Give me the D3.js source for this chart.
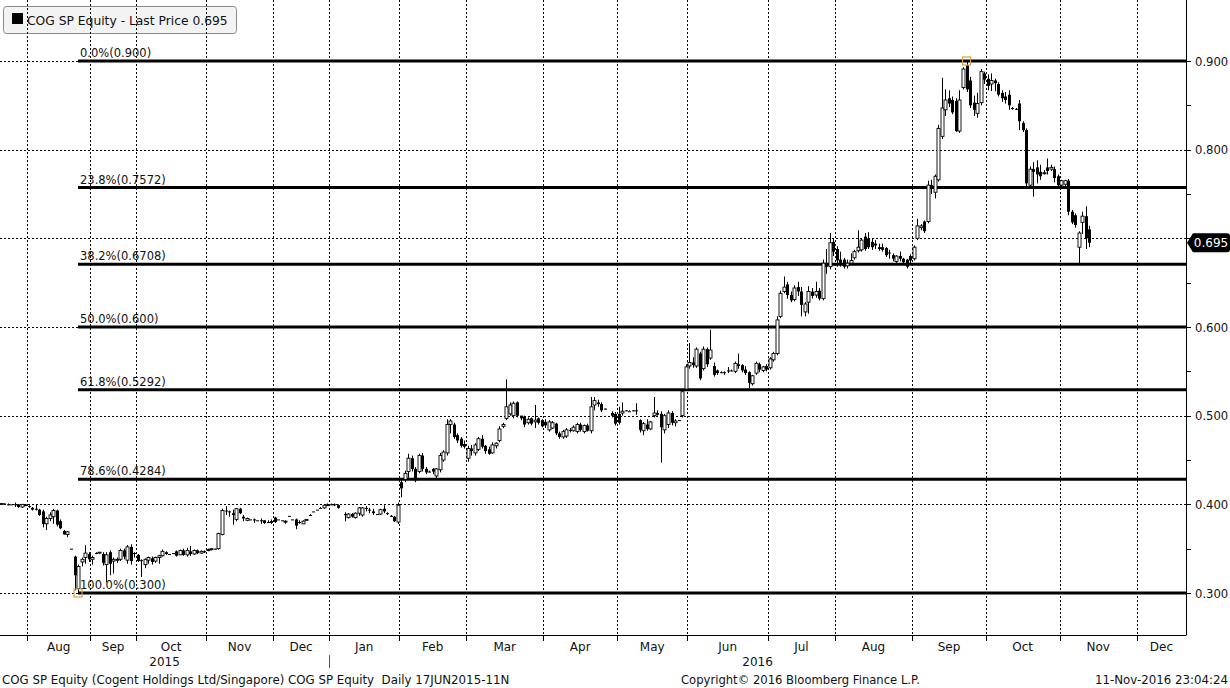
<!DOCTYPE html>
<html><head><meta charset="utf-8">
<script src="https://cdn.jsdelivr.net/npm/d3@7"></script>
<style>
html,body{margin:0;padding:0;background:#fff;}
svg{display:block;font-family:"DejaVu Sans",Verdana,sans-serif;}
</style></head>
<body><svg id="c" width="1230" height="688"></svg>
<script>
// ---------- DATA ----------
const ticker = "COG SP Equity";
const lastPrice = 0.695;
const monthLabels = ["Aug","Sep","Oct","Nov","Dec","Jan","Feb","Mar","Apr","May","Jun","Jul","Aug","Sep","Oct","Nov","Dec"];
const monthStarts = [8,26,39,59,78,94,114,133,155,176,196,219,238,260,281,302,324];
const totalSlots = 338;
const yearLabels = ["2015","2016"];
const yearStarts = [0,94];
const yTicks = [0.3,0.4,0.5,0.6,0.7,0.8,0.9];
const yMinorTicks = [0.35,0.45,0.55,0.65,0.75,0.85];
const fibLevels = [0.900,0.7572,0.6708,0.600,0.5292,0.4284,0.300];
const fibLabels = ["0.0%(0.900)","23.8%(0.7572)","38.2%(0.6708)","50.0%(0.600)","61.8%(0.5292)","78.6%(0.4284)","100.0%(0.300)"];
const lowIndex = 22, highIndex = 275;
// daily candles [open, high, low, close], one per slot (null = no trade)
const ohlc = [
[0.400,0.401,0.400,0.401],[0.401,0.401,0.400,0.400],[0.400,0.401,0.399,0.400],[0.400,0.400,0.400,0.400],
[0.400,0.402,0.397,0.400],[0.400,0.400,0.396,0.397],[0.397,0.400,0.396,0.400],[0.400,0.400,0.398,0.398],
[0.398,0.399,0.396,0.397],[0.396,0.397,0.393,0.394],[0.395,0.400,0.393,0.395],[0.394,0.395,0.387,0.388],
[0.392,0.394,0.374,0.378],[0.378,0.386,0.371,0.384],[0.384,0.391,0.381,0.388],[0.386,0.395,0.378,0.393],
[0.393,0.394,0.375,0.377],[0.381,0.383,0.372,0.373],[0.370,0.371,0.366,0.366],[0.366,0.370,0.363,0.369],
[0.350,0.350,0.350,0.350],[0.341,0.342,0.303,0.320],[0.305,0.332,0.300,0.330],[0.335,0.340,0.330,0.338],
[0.340,0.354,0.333,0.345],[0.344,0.346,0.335,0.338],[0.338,0.342,0.332,0.340],[0.345,0.346,0.344,0.345],
[0.345,0.346,0.345,0.346],[0.344,0.346,0.331,0.334],[0.332,0.346,0.312,0.343],[0.346,0.348,0.320,0.333],
[0.336,0.340,0.322,0.338],[0.337,0.340,0.334,0.338],[0.338,0.350,0.336,0.348],[0.348,0.350,0.338,0.341],
[0.337,0.354,0.333,0.352],[0.352,0.355,0.332,0.336],[0.345,0.346,0.340,0.344],[0.343,0.344,0.335,0.336],
[0.337,0.338,0.318,0.336],[0.332,0.339,0.328,0.338],[0.337,0.341,0.333,0.340],[0.339,0.341,0.332,0.335],
[0.336,0.341,0.334,0.340],[0.340,0.343,0.333,0.342],[0.342,0.349,0.341,0.347],[0.346,0.347,0.343,0.344],
[0.344,0.344,0.344,0.344],[0.345,0.345,0.344,0.345],[0.347,0.348,0.341,0.342],[0.343,0.349,0.343,0.348],
[0.348,0.350,0.342,0.343],[0.343,0.351,0.341,0.348],[0.347,0.353,0.342,0.344],[0.344,0.349,0.343,0.348],
[0.348,0.349,0.344,0.345],[0.345,0.348,0.344,0.347],[0.347,0.348,0.345,0.346],[0.348,0.350,0.347,0.349],
[0.349,0.350,0.348,0.350],[0.350,0.350,0.349,0.350],[0.350,0.368,0.349,0.367],[0.366,0.395,0.365,0.393],
[0.393,0.398,0.388,0.392],[0.392,0.393,0.386,0.391],[0.390,0.394,0.377,0.388],[0.383,0.396,0.381,0.395],
[0.395,0.396,0.389,0.390],[0.386,0.388,0.381,0.384],[0.382,0.385,0.381,0.384],[0.383,0.383,0.383,0.383],
[0.383,0.384,0.379,0.383],[0.382,0.382,0.382,0.382],[0.382,0.384,0.378,0.381],[0.382,0.382,0.378,0.379],
[0.380,0.382,0.379,0.380],[0.381,0.383,0.378,0.379],[0.385,0.386,0.379,0.380],[0.383,0.383,0.383,0.383],
[0.382,0.382,0.382,0.382],[0.380,0.382,0.378,0.381],[0.387,0.387,0.387,0.387],[0.383,0.383,0.383,0.383],
[0.383,0.384,0.372,0.376],[0.380,0.382,0.378,0.379],[0.378,0.382,0.378,0.381],[0.382,0.383,0.382,0.383],
[0.388,0.389,0.388,0.388],[0.392,0.392,0.392,0.392],[0.394,0.394,0.394,0.394],[0.396,0.397,0.396,0.396],
[0.396,0.400,0.395,0.399],[0.400,0.401,0.398,0.398],
// Jan 2016
[0.400,0.401,0.399,0.400],[0.400,0.401,0.398,0.399],[0.399,0.400,0.395,0.396],null,
[0.389,0.391,0.381,0.388],[0.385,0.390,0.384,0.389],[0.389,0.390,0.385,0.386],[0.385,0.391,0.384,0.390],
[0.390,0.397,0.387,0.396],[0.388,0.397,0.386,0.396],[0.396,0.398,0.392,0.395],[0.394,0.396,0.390,0.393],
[0.392,0.395,0.388,0.390],[0.389,0.389,0.388,0.389],[0.389,0.395,0.388,0.394],[0.395,0.399,0.390,0.392],
[0.390,0.391,0.388,0.389],[0.387,0.388,0.386,0.387],[0.386,0.387,0.380,0.381],[0.380,0.402,0.378,0.399],
// Feb
[0.425,0.428,0.408,0.418],[0.428,0.438,0.425,0.435],[0.437,0.457,0.430,0.452],[0.452,0.455,0.437,0.440],
[0.440,0.442,0.425,0.427],[0.437,0.457,0.435,0.455],[0.455,0.458,0.437,0.440],[0.440,0.442,0.434,0.436],
[0.437,0.438,0.436,0.437],[0.440,0.441,0.434,0.437],[0.432,0.441,0.429,0.440],[0.439,0.458,0.436,0.455],
[0.450,0.461,0.448,0.459],[0.458,0.496,0.455,0.490],[0.490,0.496,0.480,0.494],[0.490,0.492,0.474,0.476],
[0.478,0.480,0.469,0.472],[0.474,0.476,0.464,0.466],[0.468,0.472,0.463,0.465],
// Mar
[0.452,0.466,0.448,0.463],[0.463,0.467,0.455,0.460],[0.458,0.469,0.455,0.467],[0.462,0.476,0.460,0.474],
[0.474,0.478,0.463,0.465],[0.466,0.467,0.457,0.460],[0.462,0.465,0.456,0.457],[0.458,0.470,0.457,0.467],
[0.466,0.470,0.463,0.469],[0.472,0.488,0.470,0.485],[0.488,0.492,0.486,0.490],[0.497,0.541,0.495,0.510],
[0.502,0.515,0.500,0.512],[0.500,0.516,0.497,0.514],[0.515,0.516,0.498,0.500],[0.500,0.500,0.495,0.497],
[0.499,0.500,0.487,0.490],[0.492,0.498,0.490,0.496],[0.497,0.498,0.489,0.491],[0.493,0.512,0.486,0.495],
[0.497,0.498,0.490,0.492],[0.495,0.496,0.487,0.488],
// Apr
[0.493,0.496,0.486,0.489],[0.484,0.495,0.482,0.493],[0.486,0.494,0.485,0.492],[0.491,0.492,0.478,0.480],
[0.480,0.482,0.474,0.476],[0.476,0.484,0.474,0.482],[0.477,0.486,0.475,0.484],[0.484,0.486,0.481,0.483],
[0.483,0.489,0.482,0.487],[0.482,0.492,0.480,0.490],[0.490,0.492,0.482,0.484],[0.482,0.490,0.480,0.489],
[0.489,0.491,0.482,0.483],[0.483,0.521,0.480,0.510],[0.512,0.521,0.506,0.517],[0.515,0.518,0.510,0.513],
[0.513,0.515,0.504,0.506],[0.508,0.508,0.507,0.508],null,[0.503,0.505,0.498,0.500],[0.502,0.504,0.489,0.491],
// May
[0.502,0.510,0.490,0.492],[0.503,0.515,0.500,0.505],[0.506,0.506,0.505,0.506],[0.505,0.506,0.505,0.505],
[0.506,0.506,0.505,0.506],[0.506,0.514,0.501,0.505],[0.495,0.496,0.481,0.484],[0.483,0.493,0.478,0.491],
[0.490,0.496,0.483,0.485],[0.485,0.494,0.484,0.493],[0.500,0.521,0.498,0.503],[0.503,0.506,0.500,0.501],
[0.502,0.505,0.447,0.487],[0.484,0.502,0.480,0.500],[0.490,0.506,0.486,0.503],[0.503,0.505,0.489,0.492],
[0.492,0.496,0.488,0.494],[0.495,0.495,0.494,0.495],[0.500,0.530,0.498,0.527],[0.530,0.558,0.528,0.555],
// Jun
[0.556,0.582,0.553,0.560],[0.560,0.566,0.554,0.557],[0.556,0.577,0.554,0.575],[0.570,0.572,0.540,0.542],
[0.553,0.578,0.551,0.575],[0.575,0.577,0.555,0.558],[0.565,0.597,0.563,0.574],[0.556,0.560,0.544,0.546],
[0.551,0.552,0.546,0.548],[0.549,0.550,0.548,0.549],[0.549,0.550,0.546,0.548],[0.551,0.555,0.548,0.550],
[0.551,0.552,0.550,0.551],[0.550,0.561,0.548,0.559],[0.558,0.570,0.553,0.556],[0.557,0.558,0.549,0.551],
[0.552,0.556,0.546,0.548],[0.549,0.550,0.531,0.537],[0.536,0.546,0.534,0.545],[0.548,0.561,0.546,0.559],
[0.558,0.560,0.549,0.552],[0.551,0.556,0.549,0.555],[0.556,0.558,0.550,0.552],
// Jul
[0.554,0.566,0.552,0.564],[0.563,0.572,0.561,0.570],[0.570,0.612,0.568,0.608],[0.612,0.641,0.610,0.638],
[0.640,0.657,0.638,0.645],[0.648,0.651,0.632,0.636],[0.636,0.640,0.628,0.630],[0.631,0.647,0.629,0.644],
[0.645,0.651,0.635,0.640],[0.640,0.645,0.612,0.625],[0.617,0.628,0.612,0.626],[0.628,0.646,0.615,0.640],
[0.640,0.644,0.632,0.635],[0.636,0.651,0.633,0.640],[0.641,0.644,0.630,0.632],[0.632,0.676,0.630,0.672],
[0.672,0.688,0.660,0.668],[0.668,0.706,0.665,0.695],[0.696,0.700,0.680,0.685],
// Aug
[0.688,0.691,0.668,0.675],[0.676,0.685,0.668,0.672],[0.676,0.678,0.666,0.668],[0.669,0.676,0.666,0.672],
[0.672,0.683,0.670,0.675],[0.678,0.687,0.676,0.685],[0.686,0.709,0.684,0.690],[0.687,0.700,0.685,0.698],
[0.702,0.706,0.686,0.688],[0.700,0.707,0.688,0.690],[0.696,0.700,0.687,0.690],[0.694,0.698,0.688,0.692],
[0.690,0.694,0.686,0.688],[0.690,0.694,0.685,0.687],[0.689,0.690,0.679,0.681],[0.684,0.687,0.677,0.683],
[0.681,0.683,0.674,0.677],[0.674,0.681,0.672,0.680],[0.680,0.685,0.674,0.677],[0.677,0.678,0.671,0.673],
[0.676,0.677,0.666,0.668],[0.680,0.682,0.671,0.675],
// Sep
[0.677,0.692,0.675,0.690],[0.700,0.722,0.698,0.714],[0.712,0.716,0.709,0.714],[0.719,0.720,0.706,0.708],
[0.719,0.765,0.717,0.760],[0.760,0.766,0.750,0.756],[0.752,0.772,0.745,0.770],[0.766,0.828,0.764,0.824],
[0.815,0.881,0.812,0.847],[0.845,0.868,0.838,0.856],[0.858,0.867,0.848,0.852],[0.856,0.860,0.840,0.842],
[0.855,0.858,0.820,0.821],[0.821,0.867,0.819,0.856],[0.870,0.893,0.868,0.891],[0.895,0.900,0.865,0.868],
[0.878,0.882,0.847,0.850],[0.853,0.861,0.838,0.845],[0.841,0.864,0.836,0.852],[0.853,0.891,0.850,0.888],
[0.886,0.888,0.874,0.879],
// Oct
[0.880,0.885,0.867,0.872],[0.874,0.886,0.866,0.878],[0.878,0.880,0.866,0.875],[0.874,0.876,0.860,0.862],
[0.864,0.867,0.854,0.858],[0.860,0.865,0.852,0.856],[0.862,0.867,0.845,0.850],[0.847,0.848,0.845,0.846],
[0.846,0.847,0.845,0.846],[0.852,0.856,0.822,0.832],[0.830,0.832,0.820,0.822],[0.822,0.824,0.758,0.762],
[0.760,0.781,0.758,0.778],[0.778,0.786,0.747,0.775],[0.780,0.788,0.762,0.772],[0.775,0.783,0.766,0.770],
[0.773,0.777,0.772,0.774],[0.780,0.790,0.772,0.776],[0.778,0.783,0.776,0.780],[0.778,0.781,0.763,0.768],
[0.770,0.772,0.758,0.760],
// Nov
[0.760,0.766,0.759,0.765],[0.761,0.766,0.759,0.765],[0.765,0.767,0.726,0.730],[0.730,0.732,0.716,0.718],
[0.726,0.728,0.712,0.715],[0.690,0.708,0.672,0.706],[0.718,0.730,0.705,0.725],[0.725,0.736,0.688,0.700],
[0.710,0.714,0.690,0.695]
];
const footerLeft = "COG SP Equity (Cogent Holdings Ltd/Singapore) COG SP Equity  Daily 17JUN2015-11N";
const footerMid = "Copyright\u00A9 2016 Bloomberg Finance L.P.";
const footerRight = "11-Nov-2016 23:04:24";

// ---------- LAYOUT ----------
const svg = d3.select("#c");
const plotRight = 1186, plotTop = 0, plotBottom = 635;
const x = d3.scaleLinear().domain([0,totalSlots]).range([-1, plotRight]);
const y = d3.scaleLinear().domain([0.3,0.9]).range([593,61]);

// legend box (under grid)
const lg = svg.append("g");
lg.append("rect").attr("x",3.5).attr("y",6.5).attr("width",233).attr("height",27).attr("rx",3)
  .attr("fill","#f3f3f3").attr("stroke","#8a8a8a");
lg.append("rect").attr("x",12).attr("y",13).attr("width",11).attr("height",11).attr("fill","#000");
lg.append("text").attr("x",27).attr("y",25).attr("font-size",12.3).attr("fill","#111")
  .text(ticker + " - Last Price " + lastPrice.toFixed(3));

// grid
const grid = svg.append("g").attr("stroke","#000").attr("stroke-width",1).attr("stroke-dasharray","2,2");
grid.selectAll("line.h").data(yTicks).join("line")
  .attr("x1",0).attr("x2",plotRight).attr("y1",d=>Math.round(y(d))+0.5).attr("y2",d=>Math.round(y(d))+0.5);
grid.selectAll("line.v").data(monthStarts).join("line")
  .attr("x1",d=>Math.round(x(d))+0.5).attr("x2",d=>Math.round(x(d))+0.5).attr("y1",plotTop).attr("y2",plotBottom);

// fib lines
const x0fib = x(lowIndex+0.5);
const fib = svg.append("g");
fib.selectAll("line").data(fibLevels).join("line")
  .attr("x1",x0fib).attr("x2",plotRight).attr("y1",d=>y(d)).attr("y2",d=>y(d))
  .attr("stroke","#000").attr("stroke-width",3);
fib.selectAll("text").data(fibLevels).join("text")
  .attr("x",x0fib+2).attr("y",d=>y(d)-4).attr("font-size",11.5).attr("fill","#111")
  .text((d,i)=>fibLabels[i]);

// candles
const bars = ohlc.map((d,i)=>d?{i,o:d[0],h:d[1],l:d[2],c:d[3]}:null).filter(Boolean);
const cg = svg.append("g");
cg.selectAll("line.w").data(bars).join("line")
  .attr("x1",d=>Math.round(x(d.i+0.5))+0.5).attr("x2",d=>Math.round(x(d.i+0.5))+0.5)
  .attr("y1",d=>y(d.h)).attr("y2",d=>y(d.l)).attr("stroke","#000").attr("stroke-width",1);
cg.selectAll("rect").data(bars).join("rect")
  .attr("x",d=>Math.round(x(d.i+0.5))-1)
  .attr("y",d=>Math.min(y(d.o),y(d.c)))
  .attr("width",3)
  .attr("height",d=>Math.max(1,Math.abs(y(d.o)-y(d.c))))
  .attr("fill",d=>d.c>d.o?"#fff":"#000")
  .attr("stroke",d=>d.c>d.o?"#000":"none")
  .attr("stroke-width",0.9);

// hi/lo markers
[lowIndex,highIndex].forEach(k=>{
  const d = ohlc[k];
  const py = k===lowIndex? y(d[2]) : y(d[1]);
  svg.append("rect").attr("x",x(k+0.5)-4).attr("y",py-4).attr("width",8).attr("height",8)
    .attr("fill","none").attr("stroke","#d7a24a").attr("stroke-width",1.2);
});

// right axis
const ly = y(lastPrice);
const ax = svg.append("g");
ax.append("line").attr("x1",plotRight+0.5).attr("x2",plotRight+0.5).attr("y1",0).attr("y2",plotBottom).attr("stroke","#000");
ax.selectAll("line.t").data(yTicks.concat(yMinorTicks)).join("line")
  .attr("x1",plotRight).attr("x2",plotRight+5).attr("y1",d=>Math.round(y(d))+0.5).attr("y2",d=>Math.round(y(d))+0.5).attr("stroke","#000");
ax.selectAll("text").data(yTicks.filter(d=>Math.abs(y(d)-ly)>14)).join("text")
  .attr("x",plotRight+9).attr("y",d=>y(d)+4.5).attr("font-size",11.6).attr("fill","#111")
  .text(d=>d3.format(".3f")(d));

// last price tag
svg.append("path")
  .attr("d",`M${plotRight+1},${ly} L${plotRight+7},${ly-9.5} L1227,${ly-9.5} Q1230,${ly-9.5} 1230,${ly-6.5} L1230,${ly+6.5} Q1230,${ly+9.5} 1227,${ly+9.5} L${plotRight+7},${ly+9.5} Z`)
  .attr("fill","#000");
svg.append("text").attr("x",1211).attr("y",ly+4.5).attr("text-anchor","middle").attr("font-size",12).attr("fill","#fff")
  .text(lastPrice.toFixed(3));

// bottom axis
ax.append("line").attr("x1",0).attr("x2",plotRight+0.5).attr("y1",plotBottom+0.5).attr("y2",plotBottom+0.5).attr("stroke","#000");
ax.selectAll("line.m").data(monthStarts).join("line")
  .attr("x1",d=>Math.round(x(d))+0.5).attr("x2",d=>Math.round(x(d))+0.5).attr("y1",plotBottom).attr("y2",plotBottom+6).attr("stroke","#000");
const ends = monthStarts.slice(1).concat([totalSlots]);
svg.selectAll("text.mon").data(monthLabels).join("text").attr("class","mon")
  .attr("x",(d,i)=>(x(monthStarts[i])+x(ends[i]))/2).attr("y",651).attr("text-anchor","middle")
  .attr("font-size",12).attr("fill","#111").text(d=>d);
const yEnds = yearStarts.slice(1).concat([totalSlots]);
svg.selectAll("text.yr").data(yearLabels).join("text").attr("class","yr")
  .attr("x",(d,i)=>(Math.max(0,x(yearStarts[i]))+Math.min(plotRight,x(yEnds[i])))/2).attr("y",666).attr("text-anchor","middle")
  .attr("font-size",12).attr("fill","#111").text(d=>d);
svg.append("line").attr("x1",Math.round(x(yearStarts[1]))+0.5).attr("x2",Math.round(x(yearStarts[1]))+0.5)
  .attr("y1",655).attr("y2",668).attr("stroke","#555");

// footer
svg.append("text").attr("x",2).attr("y",684).attr("font-size",11.8).attr("fill","#111").attr("xml:space","preserve").style("white-space","pre").text(footerLeft);
svg.append("text").attr("x",681).attr("y",684).attr("font-size",11.6).attr("fill","#111").text(footerMid);
svg.append("text").attr("x",1228).attr("y",684).attr("text-anchor","end").attr("font-size",11.8).attr("fill","#111").text(footerRight);
</script></body></html>
